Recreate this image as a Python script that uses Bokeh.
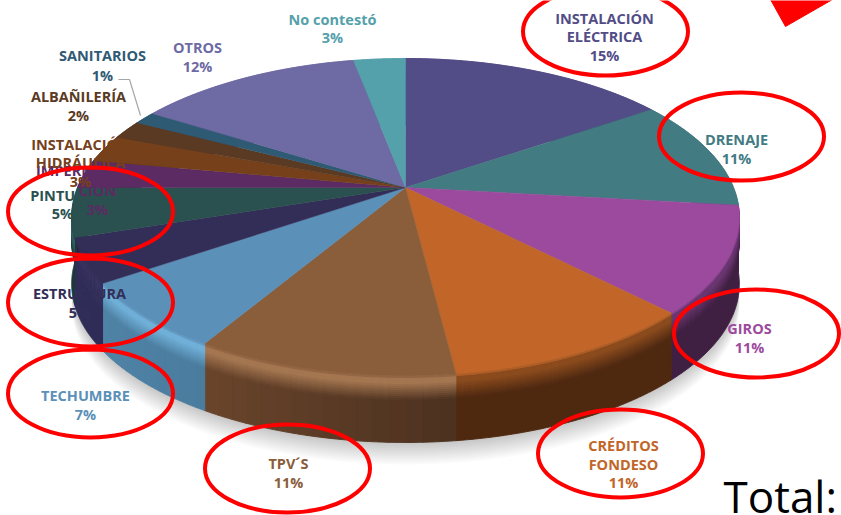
import numpy as np
from bokeh.plotting import figure
from bokeh.models import Range1d, ColumnDataSource
from bokeh.core.properties import value
from bokeh.embed import file_html
from bokeh.resources import INLINE

categories = ["INSTALACIÓN ELÉCTRICA", "DRENAJE", "GIROS", "CRÉDITOS FONDESO", "TPV´S", "TECHUMBRE",
              "ESTRUCTURA", "PINTURA", "IMPERMEABILIZACIÓN", "INSTALACIÓN HIDRÁULICA", "ALBAÑILERÍA",
              "SANITARIOS", "OTROS", "No contestó"]
shares = [15.5, 11.3, 10.8, 10.4, 10.6, 6.9, 4.5, 5.0, 2.9, 2.8, 1.9, 1.3, 13.1, 3.0]
top_colors = ["#534d87", "#437b83", "#9c4a9e", "#c16628", "#8a5d3b", "#5b90b8", "#332e58",
              "#2a504f", "#5c2b63", "#76401b", "#5a3a22", "#2f5a74", "#6e6aa3", "#54a0ab"]
rim_colors = ["#5f5996", "#4a868e", "#6a3470", "#8a4a1c", "#a47650", "#6fafd8", "#36325f",
              "#336060", "#6a3372", "#8a4d22", "#6a4529", "#376a88", "#8580b8", "#62b0bb"]
wall_left = ["#2c2950", "#2a4c52", "#3f1f42", "#4f2810", "#6a452b", "#4f83a6", "#2f2c58",
             "#1d3a3a", "#3a1a40", "#4a2810", "#3a2515", "#1f3d50", "#45426e", "#356a72"]
wall_right = ["#2c2950", "#2a4c52", "#3f1f42", "#4f2810", "#4c3120", "#4a7c9e", "#2f2c58",
              "#1d3a3a", "#3a1a40", "#4a2810", "#3a2515", "#1f3d50", "#45426e", "#356a72"]

label_lines = [
    (["No contestó", "3%"], "#54a0ab", 332, [19, 37]),
    (["INSTALACIÓN", "ELÉCTRICA", "15%"], "#534d87", 604, [18, 36, 55]),
    (["DRENAJE", "11%"], "#437b83", 736, [139, 158]),
    (["GIROS", "11%"], "#9c4a9e", 749, [328, 347]),
    (["CRÉDITOS", "FONDESO", "11%"], "#c16628", 623, [445, 464, 482]),
    (["TPV´S", "11%"], "#8a5d3b", 288, [463, 482]),
    (["TECHUMBRE", "7%"], "#5b90b8", 85, [395, 414]),
    (["ESTRUCTURA", "5%"], "#332e58", 79, [293, 312]),
    (["PINTURA", "5%"], "#2a504f", 62, [195, 213]),
    (["IMPERMEABILIZA", "CIÓN", "3%"], "#5c2b63", 97, [170, 190, 209]),
    (["INSTALACIÓN", "HIDRÁULICA", "3%"], "#76401b", 80, [144, 162, 181]),
    (["ALBAÑILERÍA", "2%"], "#5a3a22", 78, [96, 115]),
    (["SANITARIOS", "1%"], "#2f5a74", 102, [55, 75]),
    (["OTROS", "12%"], "#6e6aa3", 197, [47, 66]),
]

ring_x = [605, 741, 756, 620, 287, 90, 90, 90]
ring_y = [31, 136, 333, 453, 468, 393, 302, 211]

CX, CY, A, B, K, DEPTH = 405.0, 187.0, 328.0, 153.0, 0.186, 67.0


def rim(frac, offset=0.0):
    t = np.asarray(frac) * 2 * np.pi
    u, v = np.sin(t), np.cos(t)
    d = 1 + K * v
    return CX + A * u / d, CY - B * v / d + offset


def mix(c1, c2, f):
    a = [int(c1[i:i + 2], 16) for i in (1, 3, 5)]
    b = [int(c2[i:i + 2], 16) for i in (1, 3, 5)]
    return "#%02x%02x%02x" % tuple(round(x + (y - x) * f) for x, y in zip(a, b))


p = figure(width=841, height=515, x_range=Range1d(0, 841), y_range=Range1d(515, 0),
           output_backend="svg", toolbar_location=None, min_border=0,
           styles={"position": "absolute", "left": "0px", "top": "0px"})
p.axis.visible = False
p.grid.visible = False
p.outline_line_color = None
p.background_fill_color = "white"
p.border_fill_color = "white"

# soft shadow
whole = np.linspace(0, 1, 361)
for k in range(2, 24, 2):
    sx, sy = rim(whole, DEPTH + k)
    p.patch(sx, sy, fill_color="black", fill_alpha=0.018, line_color=None)

edges = np.concatenate([[0], np.cumsum(shares)]) / sum(shares)


def band_colour(i, d, w):
    """Colour of the wall of slice i, d px below the rim, w along the slice."""
    wall = mix(wall_left[i], wall_right[i], w)
    if d < 3:
        return mix(top_colors[i], rim_colors[i], d / 3)
    if d < 7:
        return rim_colors[i]
    if d < 24:
        return mix(rim_colors[i], wall, (d - 7) / 17)
    return wall


# walls, drawn bottom band first so each lighter band overlaps the one beneath
depths = np.concatenate([np.arange(0, 26, 2.0), [DEPTH]])
wall_x, wall_y, wall_c = [], [], []
for i in range(len(shares)):
    pieces = 16 if wall_left[i] != wall_right[i] else 1
    cuts = np.linspace(edges[i], edges[i + 1], pieces + 1)
    for n in range(pieces):
        f = np.linspace(cuts[n], cuts[n + 1], 120 // pieces + 2)
        for d0, d1 in list(zip(depths[:-1], depths[1:]))[::-1]:
            x0, y0 = rim(f, d0)
            x1, y1 = rim(f[::-1], d1)
            wall_x.append(np.concatenate([x0, x1]).tolist())
            wall_y.append(np.concatenate([y0, y1]).tolist())
            wall_c.append(band_colour(i, (d0 + d1) / 2 if d1 < 30 else 30, 1 - (n + 0.5) / pieces))
p.patches("x", "y", fill_color="c", line_color="c", line_width=1.0,
          source=ColumnDataSource(dict(x=wall_x, y=wall_y, c=wall_c)))

# top face
top_x, top_y = [], []
for i in range(len(shares)):
    f = np.linspace(edges[i], edges[i + 1], 80)
    x, y = rim(f)
    top_x.append([CX] + x.tolist())
    top_y.append([CY] + y.tolist())
p.patches("x", "y", fill_color="c", line_color="c", line_width=0.4,
          source=ColumnDataSource(dict(x=top_x, y=top_y, c=top_colors)))

# leader line
p.line([118, 129, 140], [79, 79, 115], line_color="#a6a6a6", line_width=1.2)

# labels
tx, ty, tt, tc = [], [], [], []
for lines, colour, cx, ys in label_lines:
    for s, yy in zip(lines, ys):
        tx.append(cx); ty.append(yy); tt.append(s); tc.append(colour)
p.text("x", "y", text="t", text_color="c", text_align="center", text_baseline="middle",
       text_font=value("Open Sans"), text_font_size="14.5px", text_font_style="bold",
       source=ColumnDataSource(dict(x=tx, y=ty, t=tt, c=tc)))

# annotations
p.ellipse(ring_x, ring_y, width=165, height=88, fill_color=None, line_color="#fe0000", line_width=4)
p.patch([770, 785, 832], [-1, 26, -1], fill_color="#fe0000", line_color="#fe0000")
p.text([723], [495], text=["Total:"], text_color="black", text_align="left", text_baseline="middle",
       text_font=value("Open Sans"), text_font_size="44px")

open("out.html", "w").write(file_html(p, INLINE))
